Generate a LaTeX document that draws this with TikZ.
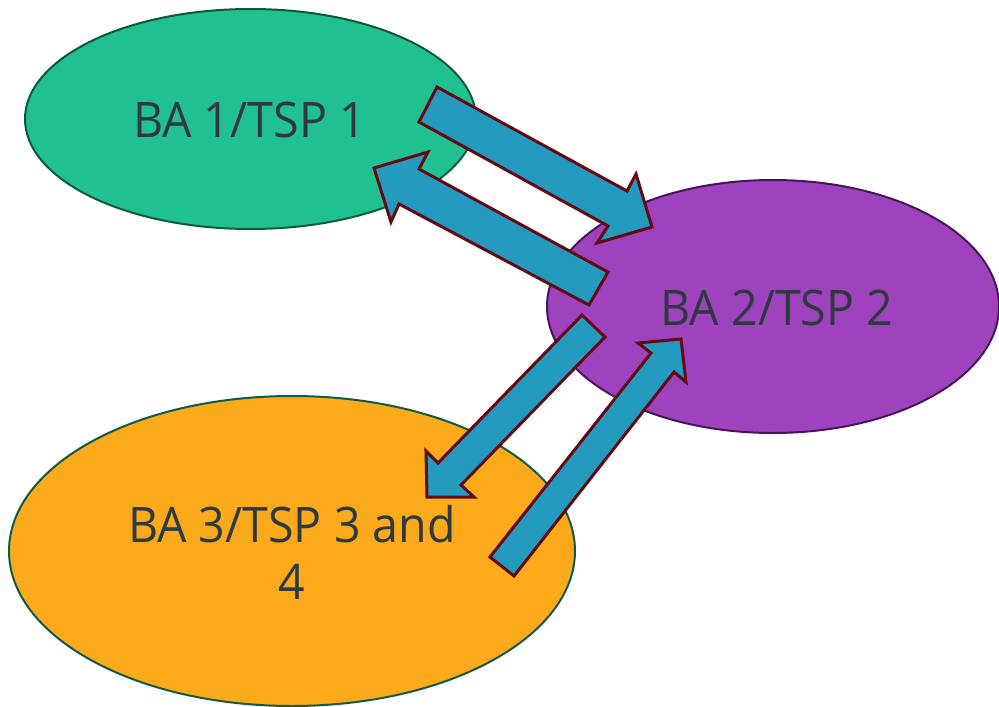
\documentclass[tikz,border=0pt]{standalone}
\usepackage{fontspec}
\setmainfont{Open Sans}[FakeStretch=0.95]
\usetikzlibrary{shapes.geometric}
\definecolor{greenfill}{RGB}{33,192,145}
\definecolor{greenedge}{RGB}{14,88,66}
\definecolor{purplefill}{RGB}{158,66,190}
\definecolor{purpleedge}{RGB}{72,22,88}
\definecolor{orangefill}{RGB}{250,170,26}
\definecolor{orangeedge}{RGB}{16,90,70}
\definecolor{arrowfill}{RGB}{36,155,190}
\definecolor{arrowedge}{RGB}{100,10,20}
\definecolor{textc}{RGB}{47,58,64}
\begin{document}
\begin{tikzpicture}[x=1pt,y=-1pt,
  blob/.style={ellipse, inner sep=0pt, line width=2pt},
  barrow/.style={fill=arrowfill, draw=arrowedge, line width=3pt, line join=miter},
  lbl/.style={text=textc, font=\fontsize{49}{57}\selectfont, inner sep=0pt, align=center}]
\useasboundingbox (0,0) rectangle (999,707);
% ellipses
\node[blob, fill=greenfill, draw=greenedge, minimum width=451pt, minimum height=220pt] (ba1) at (250.5,119) {};
\node[blob, fill=purplefill, draw=purpleedge, minimum width=452pt, minimum height=253pt] (ba2) at (773,306.5) {};
\node[blob, fill=orangefill, draw=orangeedge, minimum width=566pt, minimum height=310pt] (ba3) at (292,551) {};
% block arrows
\draw[barrow] (437,87) -- (627,191) -- (636,174) -- (652,227) -- (597,243) -- (608,226) -- (419,122) -- cycle;
\draw[barrow] (608,272) -- (419,169) -- (428,152) -- (374,168) -- (391,222) -- (399,204) -- (589,305) -- cycle;
\draw[barrow] (582,315) -- (438,463) -- (426,451) -- (427,497) -- (474,497) -- (461,485) -- (605,337) -- cycle;
\draw[barrow] (490,557) -- (651,353) -- (638,343) -- (681,339) -- (686,382) -- (674,372) -- (514,576) -- cycle;
% labels
\node[lbl, anchor=base] (t1) at (249.5,137) {BA 1/TSP 1};
\node[lbl, anchor=base] (t2) at (777,325) {BA 2/TSP 2};
\node[lbl, anchor=base] (t3) at (292,599) {BA 3/TSP 3 and\\4};
\end{tikzpicture}
\end{document}
